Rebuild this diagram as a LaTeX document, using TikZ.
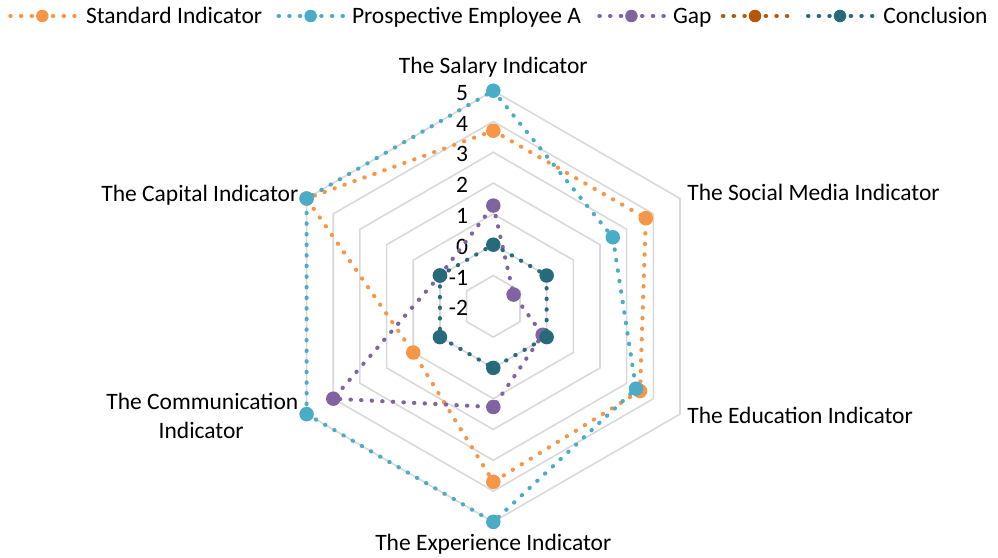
\documentclass[tikz,border=0pt]{standalone}
\usepackage{fontspec}
\setmainfont{Carlito}
\definecolor{cStd}{HTML}{F79646}
\definecolor{cEmp}{HTML}{4BACC6}
\definecolor{cGap}{HTML}{8064A2}
\definecolor{cBrn}{HTML}{B65708}
\definecolor{cCon}{HTML}{276A7C}
\definecolor{cGrid}{HTML}{D9D9D9}
\newcommand\unitr{30.8}
\newcommand\defseries[7]{%
  \coordinate (#1-1) at (90:{(#2+2)*\unitr});
  \coordinate (#1-2) at (30:{(#3+2)*\unitr});
  \coordinate (#1-3) at (-30:{(#4+2)*\unitr});
  \coordinate (#1-4) at (-90:{(#5+2)*\unitr});
  \coordinate (#1-5) at (210:{(#6+2)*\unitr});
  \coordinate (#1-6) at (150:{(#7+2)*\unitr});
}
\newcommand\drawseries[2]{%
  \draw[serie, draw=#2] (#1-1) -- (#1-2) -- (#1-3) -- (#1-4) -- (#1-5) -- (#1-6) -- cycle;
  \foreach \i in {1,...,6} { \node[mk=#2] (#1-m\i) at (#1-\i) {}; }
}
\begin{document}
\begin{tikzpicture}[x=1pt,y=1pt,
  every node/.style={inner sep=0pt, outer sep=0pt, font=\fontsize{23.5}{28}\selectfont},
  gridring/.style={draw=cGrid, line width=1.6pt, line join=miter},
  serie/.style={line width=4.1pt, dash pattern=on 0.4pt off 10.2pt, line cap=round, line join=round},
  legline/.style={line width=4.1pt, dash pattern=on 0.4pt off 10.267pt, line cap=round},
  mk/.style={circle, fill=#1, minimum size=14.5pt, inner sep=0pt},
  legmk/.style={circle, fill=#1, minimum size=12.5pt, inner sep=0pt},
  ticklab/.style={anchor=east}
]
\useasboundingbox (0,0) rectangle (998,557);
\fill[white] (0,0) rectangle (998,557);

\begin{scope}[shift={(493.3,250.7)}]
  % grid rings
  \foreach \k in {1,...,7} {
    \draw[gridring] (90:{\k*\unitr}) -- (30:{\k*\unitr}) -- (-30:{\k*\unitr}) -- (-90:{\k*\unitr}) -- (210:{\k*\unitr}) -- (150:{\k*\unitr}) -- cycle;
  }
  % tick labels
  \foreach \v [count=\j from 0] in {-2,-1,0,1,2,3,4,5} {
    \node[ticklab] (tick\j) at (-25.3, {\j*\unitr-2}) {\v};
  }
  % series
  \defseries{std}{3.7}{3.72}{3.5}{3.7}{1}{5}
  \defseries{emp}{5}{2.48}{3.35}{5}{5}{5}
  \defseries{gap}{1.27}{-1.24}{-0.15}{1.27}{4}{0}
  \defseries{con}{0}{0}{0}{0}{0}{0}
  \drawseries{std}{cStd}
  \drawseries{emp}{cEmp}
  \drawseries{gap}{cGap}
  \drawseries{con}{cCon}
\end{scope}

% axis labels
\node[anchor=base] (labSal) at (493.3,483.7) {The Salary Indicator};
\node[anchor=base west] (labSoc) at (687.3,356.3) {The Social Media Indicator};
\node[anchor=base west] (labEdu) at (687.3,133) {The Education Indicator};
\node[anchor=base] (labExp) at (493.3,7) {The Experience Indicator};
\node[anchor=base east] (labCom1) at (298.3,147) {The Communication};
\node[anchor=base] (labCom2) at (201.2,118.7) {Indicator};
\node[anchor=base east] (labCap) at (298.3,355.3) {The Capital Indicator};

% legend
\foreach \c/\col/\nm in {42.3/cStd/L1, 310.6/cEmp/L2, 631.4/cGap/L3, 755/cBrn/L4, 840/cCon/L5} {
  \coordinate (\nm a) at ({\c-32},541);
  \coordinate (\nm b) at ({\c+32.3},541);
  \draw[legline, draw=\col] (\nm a) -- (\nm b);
  \node[legmk=\col] (\nm m) at (\c,541) {};
}
\node[anchor=base west] (L1t) at (86,533.7) {Standard Indicator};
\node[anchor=base west] (L2t) at (352,533.7) {Prospective Employee A};
\node[anchor=base west] (L3t) at (673,533.7) {Gap};
\node[anchor=base west] (L5t) at (883.3,533.7) {Conclusion};
\end{tikzpicture}
\end{document}
